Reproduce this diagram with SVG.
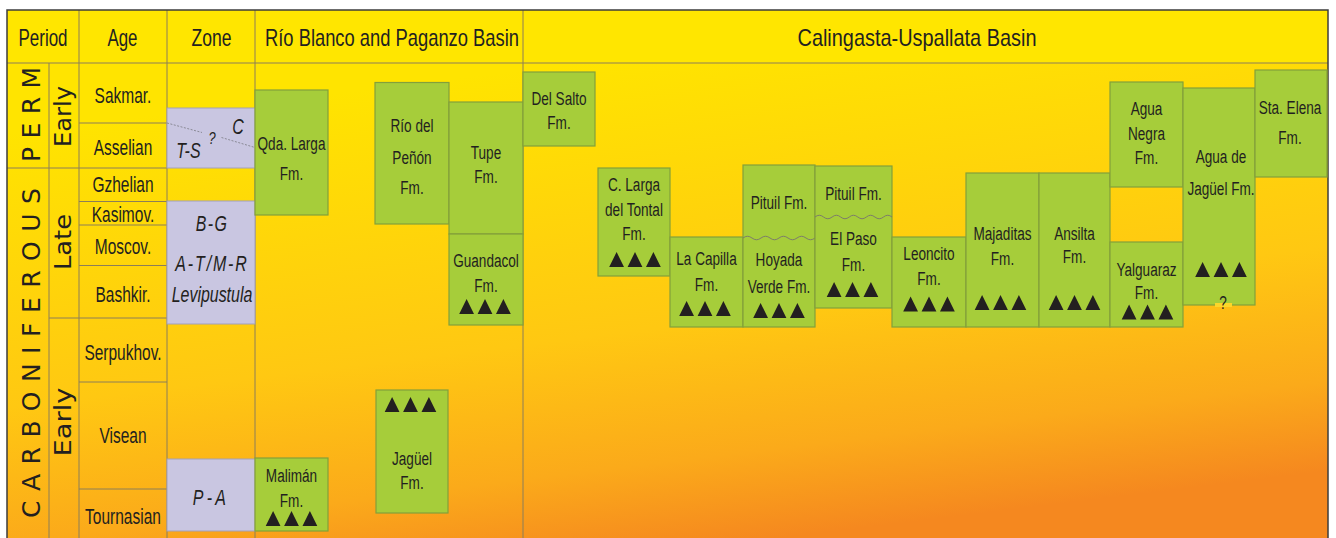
<svg xmlns="http://www.w3.org/2000/svg" xmlns:xlink="http://www.w3.org/1999/xlink" width="1336" height="538" viewBox="0 0 1336 538">
<defs>
<linearGradient id="bodyGrad" gradientUnits="userSpaceOnUse" x1="580" y1="63" x2="640" y2="555">
<stop offset="0" stop-color="#ffe400"/>
<stop offset="0.55" stop-color="#ffc812"/>
<stop offset="0.82" stop-color="#fbaa1a"/>
<stop offset="1" stop-color="#f5881f"/>
</linearGradient>
<path id="tri3" d="M-25.8,15 L-18.4,0 L-11,15 Z M-7.4,15 L0,0 L7.4,15 Z M11,15 L18.4,0 L25.8,15 Z"/>
<style>
.t{font-family:"Liberation Sans",Arial,sans-serif;fill:#231f20;text-anchor:middle}
.hdr{font-size:24px}
.age{font-size:22px}
.box{font-size:19px}
.zn{font-size:22px;font-style:italic}
.per{font-family:"DejaVu Sans","Liberation Sans",sans-serif;font-size:23px;fill:#231f20;text-anchor:middle}
.perbig{font-family:"DejaVu Sans","Liberation Sans",sans-serif;font-size:25px;fill:#231f20;text-anchor:middle}
.grid{stroke:#8c7e58;stroke-width:1;fill:none}
.g{fill:#a6cd3a;stroke:#83a03a;stroke-width:1.2}
.z{fill:#c9c6e1;stroke:#a3a0b8;stroke-width:1}
.tri{fill:#231f20}
.wave{fill:none;stroke:#7d7d6a;stroke-width:1}
</style>
</defs>
<rect x="0" y="0" width="1336" height="538" fill="#ffffff"/>
<rect x="7" y="63" width="1321" height="480" fill="url(#bodyGrad)"/>
<rect x="7" y="10" width="1321" height="53" fill="#ffe600"/>

<g id="grid">
<line class="grid" x1="7" y1="63" x2="1328" y2="63"/>
<line class="grid" x1="49" y1="63" x2="49" y2="538"/>
<line class="grid" x1="79" y1="10" x2="79" y2="538"/>
<line class="grid" x1="167" y1="10" x2="167" y2="538"/>
<line class="grid" x1="255" y1="10" x2="255" y2="538"/>
<line class="grid" x1="523" y1="10" x2="523" y2="538"/>
<line class="grid" x1="79" y1="123" x2="167" y2="123"/>
<line class="grid" x1="7" y1="168" x2="167" y2="168"/>
<line class="grid" x1="79" y1="201.5" x2="167" y2="201.5"/>
<line class="grid" x1="79" y1="225" x2="167" y2="225"/>
<line class="grid" x1="79" y1="265.5" x2="167" y2="265.5"/>
<line class="grid" x1="49" y1="318" x2="167" y2="318"/>
<line class="grid" x1="79" y1="382" x2="167" y2="382"/>
<line class="grid" x1="79" y1="489" x2="167" y2="489"/>
</g>
<rect x="7" y="10" width="1321" height="540" fill="none" stroke="#3c3c3c" stroke-width="1.5"/>

<g id="headers">
<text class="t hdr" x="43" y="46" textLength="49" lengthAdjust="spacingAndGlyphs">Period</text>
<text class="t hdr" x="122.5" y="46" textLength="30" lengthAdjust="spacingAndGlyphs">Age</text>
<text class="t hdr" x="211.5" y="46" textLength="40" lengthAdjust="spacingAndGlyphs">Zone</text>
<text class="t hdr" x="392" y="46" textLength="254" lengthAdjust="spacingAndGlyphs">Río Blanco and Paganzo Basin</text>
<text class="t hdr" x="917" y="46" textLength="239" lengthAdjust="spacingAndGlyphs">Calingasta-Uspallata Basin</text>
</g>

<g id="periods">
<text class="perbig" transform="translate(40,114.5) rotate(-90)" textLength="95" lengthAdjust="spacing">PERM</text>
<text class="perbig" transform="translate(40,353) rotate(-90)" textLength="330" lengthAdjust="spacing">CARBONIFEROUS</text>
<text class="per" transform="translate(70.5,116.5) rotate(-90)" textLength="61" lengthAdjust="spacingAndGlyphs">Early</text>
<text class="per" transform="translate(70.5,242) rotate(-90)" textLength="56" lengthAdjust="spacingAndGlyphs">Late</text>
<text class="per" transform="translate(70.5,422) rotate(-90)" textLength="69" lengthAdjust="spacingAndGlyphs">Early</text>
</g>

<g id="ages" transform="translate(123,0) scale(0.705,1)">
<text class="t age" x="0" y="103">Sakmar.</text>
<text class="t age" x="0" y="155">Asselian</text>
<text class="t age" x="0" y="192">Gzhelian</text>
<text class="t age" x="0" y="222">Kasimov.</text>
<text class="t age" x="0" y="254">Moscov.</text>
<text class="t age" x="0" y="302">Bashkir.</text>
<text class="t age" x="0" y="360">Serpukhov.</text>
<text class="t age" x="0" y="443">Visean</text>
<text class="t age" x="0" y="524">Tournasian</text>
</g>

<g id="zone-ts">
<rect class="z" x="167" y="108" width="88" height="60"/>
<path d="M167,123 L202,132.5 M221.5,137.5 L255,147.5" stroke="#8a8a96" stroke-width="1" stroke-dasharray="2,1.5" fill="none"/>
<g transform="scale(0.725,1)">
<text class="t zn" x="259.9" y="158">T-S</text>
<text class="t zn" x="328.3" y="134">C</text>
</g>
<text class="t" x="212" y="144" font-size="16" font-style="italic" transform="translate(212,0) scale(0.8,1) translate(-212,0)">?</text>
</g>

<g id="zone-bg">
<rect class="z" x="167" y="201" width="88" height="123"/>
<g transform="translate(212,0) scale(0.725,1)">
<text class="t zn" x="0" y="231" letter-spacing="2">B-G</text>
<text class="t zn" x="0" y="271" letter-spacing="2.6">A-T/M-R</text>
<text class="t zn" x="0" y="302">Levipustula</text>
</g>
</g>

<g id="zone-pa">
<rect class="z" x="167" y="459" width="88" height="72"/>
<g transform="translate(211,0) scale(0.725,1)">
<text class="t zn" x="0" y="505" letter-spacing="4.5">P-A</text>
</g>
</g>

<g id="qda-larga">
<rect class="g" x="255" y="90" width="73" height="125"/>
<g transform="translate(291.5,0) scale(0.715,1)"><text class="t box" x="0" y="150.5">Qda. Larga</text><text class="t box" x="0" y="180">Fm.</text></g>
</g>
<g id="rio-del-penon">
<rect class="g" x="375" y="82.5" width="74" height="141.5"/>
<g transform="translate(412,0) scale(0.715,1)"><text class="t box" x="0" y="132">Río del</text><text class="t box" x="0" y="164">Peñón</text><text class="t box" x="0" y="194">Fm.</text></g>
</g>
<g id="tupe">
<rect class="g" x="449" y="102" width="74" height="132"/>
<g transform="translate(486,0) scale(0.715,1)"><text class="t box" x="0" y="159">Tupe</text><text class="t box" x="0" y="183">Fm.</text></g>
</g>
<g id="guandacol">
<rect class="g" x="449" y="234" width="74" height="91"/>
<g transform="translate(486,0) scale(0.715,1)"><text class="t box" x="0" y="267.5">Guandacol</text><text class="t box" x="0" y="292">Fm.</text></g>
<use xlink:href="#tri3" class="tri" x="485" y="299"/>
</g>
<g id="maliman">
<rect class="g" x="255" y="458" width="73" height="73"/>
<g transform="translate(291.5,0) scale(0.715,1)"><text class="t box" x="0" y="482">Malimán</text><text class="t box" x="0" y="507">Fm.</text></g>
<use xlink:href="#tri3" class="tri" x="291.5" y="511"/>
</g>
<g id="jaguel">
<rect class="g" x="376" y="390" width="72" height="123"/>
<use xlink:href="#tri3" class="tri" x="410.5" y="397"/>
<g transform="translate(412,0) scale(0.715,1)"><text class="t box" x="0" y="465">Jagüel</text><text class="t box" x="0" y="489">Fm.</text></g>
</g>

<g id="del-salto">
<rect class="g" x="523" y="72" width="72" height="74"/>
<g transform="translate(559,0) scale(0.715,1)"><text class="t box" x="0" y="105">Del Salto</text><text class="t box" x="0" y="129">Fm.</text></g>
</g>
<g id="c-larga-tontal">
<rect class="g" x="598" y="168" width="72" height="108"/>
<g transform="translate(634,0) scale(0.715,1)"><text class="t box" x="0" y="191.5">C. Larga</text><text class="t box" x="0" y="216.5">del Tontal</text><text class="t box" x="0" y="240">Fm.</text></g>
<use xlink:href="#tri3" class="tri" x="635" y="252"/>
</g>
<g id="la-capilla">
<rect class="g" x="670" y="237" width="73" height="90"/>
<g transform="translate(706.5,0) scale(0.715,1)"><text class="t box" x="0" y="265">La Capilla</text><text class="t box" x="0" y="291.5">Fm.</text></g>
<use xlink:href="#tri3" class="tri" x="705" y="301"/>
</g>
<g id="pituil-hoyada">
<rect class="g" x="743" y="165" width="72" height="162"/>
<path class="wave" d="M743,238 q4.5,-3.5 9,0 t9,0 t9,0 t9,0 t9,0 t9,0 t9,0 t9,0"/>
<g transform="translate(779,0) scale(0.715,1)"><text class="t box" x="0" y="209">Pituil Fm.</text><text class="t box" x="0" y="266.5">Hoyada</text><text class="t box" x="0" y="293">Verde Fm.</text></g>
<use xlink:href="#tri3" class="tri" x="779" y="303"/>
</g>
<g id="pituil-el-paso">
<rect class="g" x="815" y="166" width="77" height="142"/>
<path class="wave" d="M815,217 q4.28,-3.5 8.56,0 t8.56,0 t8.56,0 t8.56,0 t8.56,0 t8.56,0 t8.56,0 t8.56,0 t8.56,0"/>
<g transform="translate(853.5,0) scale(0.715,1)"><text class="t box" x="0" y="200">Pituil Fm.</text><text class="t box" x="0" y="245">El Paso</text><text class="t box" x="0" y="271.5">Fm.</text></g>
<use xlink:href="#tri3" class="tri" x="852.5" y="282"/>
</g>
<g id="leoncito">
<rect class="g" x="892" y="237" width="74" height="90"/>
<g transform="translate(929,0) scale(0.715,1)"><text class="t box" x="0" y="260">Leoncito</text><text class="t box" x="0" y="285">Fm.</text></g>
<use xlink:href="#tri3" class="tri" x="929" y="296.5"/>
</g>
<g id="majaditas">
<rect class="g" x="966" y="173" width="73" height="154"/>
<g transform="translate(1002.5,0) scale(0.715,1)"><text class="t box" x="0" y="240">Majaditas</text><text class="t box" x="0" y="265">Fm.</text></g>
<use xlink:href="#tri3" class="tri" x="1000.5" y="295"/>
</g>
<g id="ansilta">
<rect class="g" x="1039" y="173" width="71" height="154"/>
<g transform="translate(1074.5,0) scale(0.715,1)"><text class="t box" x="0" y="240">Ansilta</text><text class="t box" x="0" y="263">Fm.</text></g>
<use xlink:href="#tri3" class="tri" x="1074.5" y="295"/>
</g>
<g id="agua-negra">
<rect class="g" x="1110" y="82" width="73" height="105"/>
<g transform="translate(1146.5,0) scale(0.715,1)"><text class="t box" x="0" y="115">Agua</text><text class="t box" x="0" y="140">Negra</text><text class="t box" x="0" y="164">Fm.</text></g>
</g>
<g id="yalguaraz">
<rect class="g" x="1110" y="242" width="73" height="85"/>
<g transform="translate(1146.5,0) scale(0.715,1)"><text class="t box" x="0" y="276">Yalguaraz</text><text class="t box" x="0" y="299">Fm.</text></g>
<use xlink:href="#tri3" class="tri" x="1147.5" y="304.5"/>
</g>
<g id="agua-de-jaguel">
<rect class="g" x="1183" y="88" width="72" height="217"/>
<rect x="1215" y="303" width="17" height="4" fill="#fcd62a"/>
<g transform="translate(1221,0) scale(0.715,1)"><text class="t box" x="0" y="163">Agua de</text><text class="t box" x="0" y="195">Jagüel Fm.</text><text class="t box" x="3" y="309">?</text></g>
<use xlink:href="#tri3" class="tri" x="1221" y="262"/>
</g>
<g id="sta-elena">
<rect class="g" x="1255" y="70" width="72" height="107"/>
<g transform="translate(1290,0) scale(0.715,1)"><text class="t box" x="0" y="114">Sta. Elena</text><text class="t box" x="0" y="144">Fm.</text></g>
</g>

<g id="connectors"/>
</svg>
